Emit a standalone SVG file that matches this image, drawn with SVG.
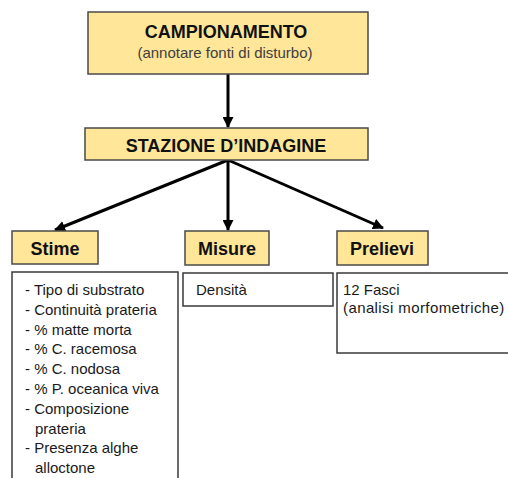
<svg xmlns="http://www.w3.org/2000/svg" width="508" height="478" viewBox="0 0 508 478">
  <defs>
    <marker id="head" markerUnits="userSpaceOnUse" markerWidth="11" markerHeight="11" refX="10" refY="5.5" orient="auto">
      <path d="M0,0 L11,5.5 L0,11 z" fill="#000"/>
    </marker>
    <style>
      .hdr { fill: #FFE699; stroke: #4a4a4a; stroke-width: 1.5; }
      .box { fill: #fff; stroke: #3a3a3a; stroke-width: 1.5; }
      .title { font-family: "Liberation Sans", Arial, sans-serif; font-weight: bold; font-size: 18px; fill: #111; text-anchor: middle; }
      .sub { font-family: "Liberation Sans", Arial, sans-serif; font-size: 15px; fill: #404040; text-anchor: middle; }
      .body { font-family: "Liberation Sans", Arial, sans-serif; font-size: 15px; fill: #1a1a1a; }
      .link { stroke: #000; stroke-width: 3; fill: none; marker-end: url(#head); }
    </style>
  </defs>

  <rect width="508" height="478" fill="#fff"/>

  <!-- connectors -->
  <g id="connectors">
    <line class="link" x1="228" y1="74" x2="228" y2="127"/>
    <line class="link" x1="228" y1="160" x2="55" y2="230"/>
    <line class="link" x1="228" y1="160" x2="228" y2="230"/>
    <line class="link" x1="228" y1="160" x2="383" y2="228"/>
  </g>

  <g id="campionamento">
    <rect class="hdr" x="88" y="12" width="280" height="62"/>
    <text class="title" x="226" y="38">CAMPIONAMENTO</text>
    <text class="sub" x="225" y="58">(annotare fonti di disturbo)</text>
  </g>

  <g id="stazione">
    <rect class="hdr" x="85" y="128" width="283" height="32"/>
    <text class="title" x="226" y="152">STAZIONE D’INDAGINE</text>
  </g>

  <g id="stime">
    <rect class="hdr" x="12" y="231" width="86" height="33"/>
    <text class="title" x="55" y="255">Stime</text>
  </g>

  <g id="misure">
    <rect class="hdr" x="185" y="231" width="84" height="34"/>
    <text class="title" x="227" y="255">Misure</text>
  </g>

  <g id="prelievi">
    <rect class="hdr" x="337" y="231" width="91" height="34"/>
    <text class="title" x="382" y="255">Prelievi</text>
  </g>

  <g id="stime-list">
    <rect class="box" x="12" y="272" width="166" height="220"/>
    <text class="body" x="25" y="295">- Tipo di substrato</text>
    <text class="body" x="25" y="315">- Continuità prateria</text>
    <text class="body" x="25" y="335">- % matte morta</text>
    <text class="body" x="25" y="354">- % C. racemosa</text>
    <text class="body" x="25" y="374">- % C. nodosa</text>
    <text class="body" x="25" y="394">- % P. oceanica viva</text>
    <text class="body" x="25" y="414">- Composizione</text>
    <text class="body" x="35" y="434">prateria</text>
    <text class="body" x="25" y="453">- Presenza alghe</text>
    <text class="body" x="35" y="473">alloctone</text>
  </g>

  <g id="misure-list">
    <rect class="box" x="183" y="273" width="150" height="33"/>
    <text class="body" x="196" y="295">Densità</text>
  </g>

  <g id="prelievi-list">
    <rect class="box" x="337" y="273" width="180" height="80"/>
    <text class="body" x="343" y="295">12 Fasci</text>
    <text class="body" x="343" y="313" letter-spacing="0.4">(analisi morfometriche)</text>
  </g>
</svg>
